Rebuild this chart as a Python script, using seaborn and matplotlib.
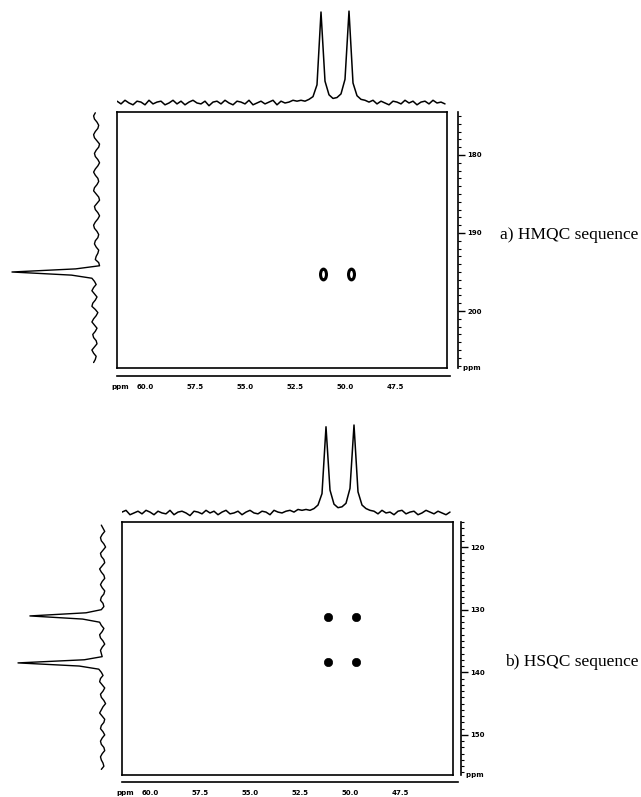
import numpy as np
import matplotlib
matplotlib.use("Agg")
import matplotlib.pyplot as plt
import seaborn as sns
from matplotlib.path import Path
from matplotlib.transforms import Affine2D
from matplotlib.ticker import MultipleLocator, FixedLocator

# ---- data ----
# F2 (top) projections, sampled every 0.2 ppm from 61.4 down to 45.0
top_a = [2, -1, 3, 0, -2, 2, 1, -2, 3, -1,
         1, 2, -2, 0, 3, -1, 2, -2, 1, 3,
         0, -1, 2, -3, 1, 2, -1, 3, 0, -2,
         2, 1, -1, 3, -2, 0, 2, -1, 1, 3,
         -2, 2, 0, 1, 3, 2,
         3, 2, 4, 7, 20, 100, 24, 9, 5, 6, 10, 26, 101, 22, 8, 4, 3,
         1, 3, -1, 2, 0, -2, 2, 1, -1, 3, 0, 2, -2, 1, 2, -1, 3, 0, 1, -1]
top_b = [1, 3, -2, 0, 2, -1, 3, 1, -2, 2,
         0, -1, 3, -2, 1, 2, 0, -3, 2, 1,
         -1, 3, 0, 2, -2, 1, 3, -1, 0, 2,
         -2, 1, 3, 0, -1, 2, 1, -2, 3, 1,
         0, 2, 3, 1, 4, 3,
         4, 3, 5, 9, 22, 98, 26, 10, 6, 7, 11, 28, 100, 24, 9, 5, 3,
         2, -1, 3, 0, 1, -2, 2, 3, -1, 1, 2, -2, 0, 3, 1, -1, 2, 0, -2, 1]

# F1 (left) projections
left_a = [2, 4, 3, 0, -2, -1, 2, 4, 3, 0,
          -3, -2, 1, 3, 2, -1, -3, -1, 2, 4,
          2, -1, -2, 0, 3, 4, 1, -2, -3, 0,
          3, 2, -1, -3, -1, 2, 4, 3, 0, -2,
          -1, 2, 3, 1, -2, -1, 1, 2, -2,
          -3, 25, 100, 30, 6,
          3, 1, 4, 6, 3, 0, 2, 5, 6, 2,
          -1, 1, 4, 6, 3, 0, 2, 5, 4, 1,
          0, 3, 6, 4, 1, 2, 4]
left_b = [2, 0, -2, 1, 3, 2, -1, -3, 0, 3,
          2, -1, -2, 1, 4, 2, -1, -2, 1, 3,
          1, -2, -1, 2, 3, 0, -1, 2,
          20, 86, 24,
          4, 2, -1, 1, 4, 3, 0, -2, 1, 3, 2, 1,
          22, 100, 28,
          5, 2, 0, 3, 4, 1, -2, 0, 3, 2,
          -1, -3, 0, 2, 4, 1, -2, -1, 2, 3,
          0, -2, 1, 3, 2, -1, -2, 1, 3, 2,
          0, -1, 2]

# cross peaks (F2 ppm, F1 ppm)
peaks_a_f2 = [51.1, 49.7]
peaks_a_f1 = [195.2, 195.2]
peaks_b_f2 = [51.1, 49.7, 51.1, 49.7]
peaks_b_f1 = [131.1, 131.1, 138.4, 138.4]

f2_ticks = [60.0, 57.5, 55.0, 52.5, 50.0, 47.5]
f1_ticks_a = [180, 190, 200]
f1_ticks_b = [120, 130, 140, 150]
labels = ["a) HMQC sequence", "b) HSQC sequence"]

top_shift = np.linspace(61.4, 45.0, len(top_a))
left_a_shift = np.linspace(174.6, 206.6, len(left_a))
left_b_shift = np.linspace(116.5, 155.5, len(left_b))

sns.set_style("white")
plt.rcParams["font.family"] = ["DejaVu Sans"]
plt.rcParams["text.color"] = "black"
plt.rcParams["xtick.color"] = "black"
plt.rcParams["ytick.color"] = "black"

W, H = 641, 797
fig = plt.figure(figsize=(W / 100, H / 100), dpi=100)


def px_axes(x0, y0, x1, y1):
    # axes from pixel box (top-left origin)
    return fig.add_axes([x0 / W, 1 - y1 / H, (x1 - x0) / W, (y1 - y0) / H])


def clean(ax):
    ax.set_xticks([])
    ax.set_yticks([])
    for s in ax.spines.values():
        s.set_visible(False)
    ax.set_facecolor("none")


def draw_panel(box, f2lim, f1lim, top_vals, top_ylim, top_y, left_vals, left_shift,
               left_xlim, left_x, right_x, bottom_y, bottom_x1, f1_ticks,
               pk_f2, pk_f1, hollow, label, label_xy):
    bx0, by0, bx1, by1 = box

    # main 2D box
    ax = px_axes(bx0, by0, bx1, by1)
    ax.set_xlim(*f2lim)
    ax.set_ylim(*f1lim)
    ax.set_xticks([])
    ax.set_yticks([])
    for s in ax.spines.values():
        s.set_linewidth(1.2)
        s.set_color("black")
    if hollow:
        ring = Path.unit_circle().transformed(Affine2D().scale(0.55, 1.0))
        sns.scatterplot(x=pk_f2, y=pk_f1, marker=ring, s=60, color="white",
                        edgecolor="black", linewidth=2.2, ax=ax)
    else:
        sns.scatterplot(x=pk_f2, y=pk_f1, marker="o", s=36, color="black",
                        edgecolor="black", ax=ax)

    # top projection
    at = px_axes(bx0, top_y[0], bx1, top_y[1])
    clean(at)
    sns.lineplot(x=top_shift, y=top_vals, estimator=None, color="black", lw=1.1, ax=at)
    at.set_xlim(*f2lim)
    at.set_ylim(*top_ylim)

    # left projection
    al = px_axes(left_x[0], by0, left_x[1], by1)
    clean(al)
    sns.lineplot(x=left_vals, y=left_shift, orient="y", estimator=None, sort=False,
                 color="black", lw=1.0, ax=al)
    al.set_xlim(*left_xlim)
    al.set_ylim(*f1lim)

    # right F1 scale
    ar = px_axes(right_x - 8, by0, right_x, by1)
    clean(ar)
    ar.spines["right"].set_visible(True)
    ar.spines["right"].set_linewidth(1.2)
    ar.spines["right"].set_color("black")
    ar.set_ylim(*f1lim)
    ar.yaxis.tick_right()
    ar.yaxis.set_major_locator(FixedLocator(f1_ticks))
    ar.yaxis.set_minor_locator(MultipleLocator(1))
    ar.set_yticklabels([str(t) for t in f1_ticks], fontsize=5, fontweight="bold")
    ar.tick_params(axis="y", which="major", length=5, width=1, pad=1.5, direction="out")
    ar.tick_params(axis="y", which="minor", length=2.5, width=0.8, direction="out")
    ar.text(1.0, f1lim[0], "  ppm", transform=ar.get_yaxis_transform(),
            fontsize=5, fontweight="bold", va="center", ha="left")

    # bottom F2 scale
    ab = px_axes(bx0, bottom_y - 6, bottom_x1, bottom_y)
    clean(ab)
    ab.spines["bottom"].set_visible(True)
    ab.spines["bottom"].set_linewidth(1.2)
    ab.spines["bottom"].set_color("black")
    span = (f2lim[0] - f2lim[1]) / (bx1 - bx0)
    ab.set_xlim(f2lim[0], f2lim[0] - span * (bottom_x1 - bx0))
    ab.xaxis.set_major_locator(FixedLocator(f2_ticks))
    ab.xaxis.set_minor_locator(MultipleLocator(0.5))
    ab.set_xticklabels([f"{t:.1f}" for t in f2_ticks], fontsize=5, fontweight="bold")
    ab.tick_params(axis="x", which="major", length=4, width=1, pad=1.5, direction="out")
    ab.tick_params(axis="x", which="minor", length=2, width=0.8, direction="out")
    ab.text(f2lim[0] - 0.15, -1.4, "ppm", transform=ab.get_xaxis_transform(),
            fontsize=5, fontweight="bold", ha="center", va="top")

    fig.text(label_xy[0] / W, 1 - label_xy[1] / H, label, fontsize=12.5, color="black",
             family=["Liberation Serif", "DejaVu Serif"], ha="left", va="center")


draw_panel(box=(117, 112, 447, 368), f2lim=(61.4, 44.9), f1lim=(207.3, 174.5),
           top_vals=top_a, top_ylim=(-7.7, 104.4), top_y=(8, 110),
           left_vals=left_a, left_shift=left_a_shift, left_xlim=(108.2, -9.4),
           left_x=(5, 105), right_x=458, bottom_y=376, bottom_x1=450,
           f1_ticks=f1_ticks_a, pk_f2=peaks_a_f2, pk_f1=peaks_a_f1, hollow=True,
           label=labels[0], label_xy=(500, 235))

draw_panel(box=(122, 522, 453, 775), f2lim=(61.4, 44.85), f1lim=(156.4, 116.0),
           top_vals=top_b, top_ylim=(-8.0, 105.7), top_y=(420, 520),
           left_vals=left_b, left_shift=left_b_shift, left_xlim=(109.4, -8.2),
           left_x=(10, 110), right_x=461, bottom_y=782, bottom_x1=458,
           f1_ticks=f1_ticks_b, pk_f2=peaks_b_f2, pk_f1=peaks_b_f1, hollow=False,
           label=labels[1], label_xy=(505, 662))

fig.savefig("out.png", dpi=100, facecolor="white")
